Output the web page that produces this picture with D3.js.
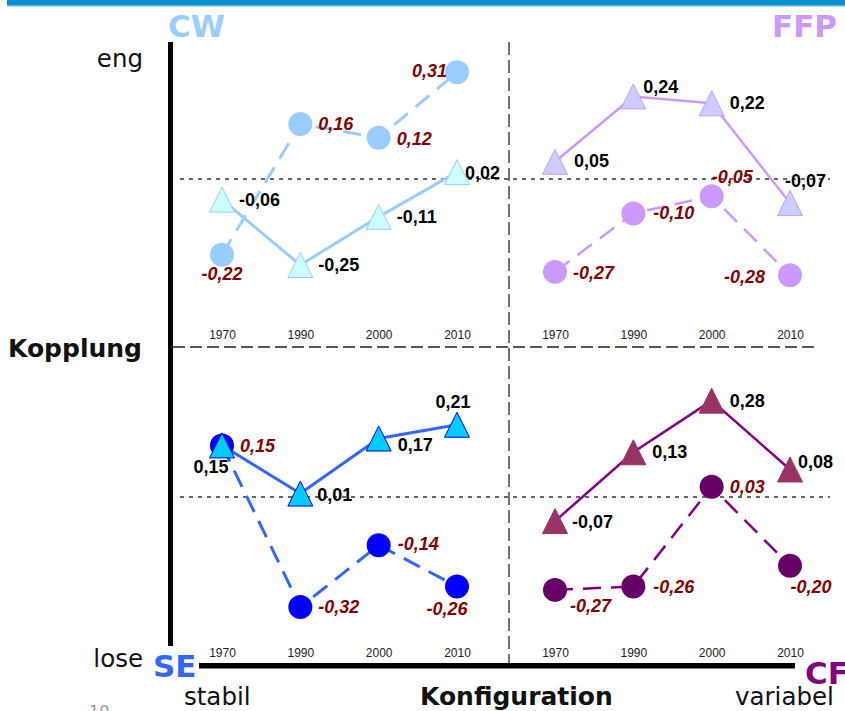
<!DOCTYPE html>
<html>
<head>
<meta charset="utf-8">
<script src="https://cdn.jsdelivr.net/npm/d3@7"></script>
<style>
  html, body { margin: 0; padding: 0; background: #fff; }
  svg { display: block; }
</style>
</head>
<body>
<svg id="chart" width="845" height="711"></svg>
<script>
// data
const years = ['1970', '1990', '2000', '2010'];

const cwTri   = [-0.06, -0.25, -0.11, 0.02];
const cwCirc  = [-0.22, 0.16, 0.12, 0.31];
const ffpTri  = [0.05, 0.24, 0.22, -0.07];
const ffpCirc = [-0.27, -0.10, -0.05, -0.28];
const seTri   = [0.15, 0.01, 0.17, 0.21];
const seCirc  = [0.15, -0.32, -0.14, -0.26];
const cfTri   = [-0.07, 0.13, 0.28, 0.08];
const cfCirc  = [-0.27, -0.26, 0.03, -0.20];

// label placement [dx, dy, anchor] relative to each marker
const cwTriLab   = [[17, 6, 'start'], [18, 6, 'start'], [18, 6, 'start'], [8, 7, 'start']];
const cwCircLab  = [[0, 25, 'middle'], [18, 6, 'start'], [18, 7, 'start'], [-10, 5, 'end']];
const ffpTriLab  = [[19, 5, 'start'], [10, -3, 'start'], [18, 6, 'start'], [-5, -16, 'start']];
const ffpCircLab = [[18, 7, 'start'], [20, 6, 'start'], [0, -13, 'start'], [-25, 8, 'end']];
const seTriLab   = [[-11, 28, 'middle'], [17, 7, 'start'], [19, 12, 'start'], [-4, -17, 'middle']];
const seCircLab  = [[18, 7, 'start'], [18, 6, 'start'], [19, 5, 'start'], [-10, 29, 'middle']];
const cfTriLab   = [[17, 7, 'start'], [19, 6, 'start'], [18, 6, 'start'], [8, -1, 'start']];
const cfCircLab  = [[15, 22, 'start'], [20, 7, 'start'], [18, 6, 'start'], [21, 27, 'middle']];

const fmt = d3.formatLocale({ decimal: ',', thousands: '.', grouping: [3], currency: ['', '€'], minus: '-' }).format('.2f');

const panels = [
  { name: 'CW',  tri: cwTri,  circ: cwCirc,  triLab: cwTriLab,  circLab: cwCircLab,
    x0: 222, x1: 457, zero: 179, line: '#99ccff', triFill: '#ccffff', triStroke: '#99ccff', circFill: '#99ccff', w: 3 },
  { name: 'FFP', tri: ffpTri, circ: ffpCirc, triLab: ffpTriLab, circLab: ffpCircLab,
    x0: 555, x1: 790, zero: 179, line: '#cc99ff', triFill: '#ccccff', triStroke: '#cc99ff', circFill: '#cc99ff', w: 2.5 },
  { name: 'SE',  tri: seTri,  circ: seCirc,  triLab: seTriLab,  circLab: seCircLab,
    x0: 222, x1: 457, zero: 497, line: '#3366ff', triFill: '#00ccff', triStroke: '#0000ff', circFill: '#0000ff', w: 3 },
  { name: 'CF',  tri: cfTri,  circ: cfCirc,  triLab: cfTriLab,  circLab: cfCircLab,
    x0: 555, x1: 790, zero: 497, line: '#800080', triFill: '#993366', triStroke: '#993366', circFill: '#660066', w: 2.5 }
];

const PX_PER_UNIT = 344;
const TRI_W = 25;
const TRI_H = 25;
const R = 12;
const LABEL_FONT = '"Liberation Sans", Arial, sans-serif';
const TEXT_FONT = '"DejaVu Sans", Verdana, sans-serif';

const svg = d3.select('#chart');

// top banner
svg.append('rect').attr('x', 7).attr('y', 0).attr('width', 838).attr('height', 5).attr('fill', '#0a8fcf');
svg.append('rect').attr('x', 7).attr('y', 5).attr('width', 838).attr('height', 1.5).attr('fill', '#5ab8e4');

// zero reference lines (dotted)
[179, 497].forEach(y => {
  svg.append('line')
      .attr('x1', 180).attr('x2', 830).attr('y1', y).attr('y2', y)
      .attr('stroke', '#666').attr('stroke-width', 2).attr('stroke-dasharray', '4,5');
});

// quadrant dividers
svg.append('line')
    .attr('x1', 173).attr('x2', 818).attr('y1', 347).attr('y2', 347)
    .attr('stroke', '#222').attr('stroke-width', 1.5).attr('stroke-dasharray', '12,5');
svg.append('line')
    .attr('x1', 509).attr('x2', 509).attr('y1', 42).attr('y2', 664)
    .attr('stroke', '#444').attr('stroke-width', 1.5).attr('stroke-dasharray', '13,5');

// main axes
svg.append('rect').attr('x', 168).attr('y', 42).attr('width', 5).attr('height', 604).attr('fill', '#000');
svg.append('rect').attr('x', 199).attr('y', 663).attr('width', 596).attr('height', 5.5).attr('fill', '#000');

function triPath(cx, cy) {
  return `M${cx},${cy - TRI_H / 2}L${cx + TRI_W / 2},${cy + TRI_H / 2}L${cx - TRI_W / 2},${cy + TRI_H / 2}Z`;
}

panels.forEach(p => {
  const x = d3.scalePoint().domain(years).range([p.x0, p.x1]);
  const y = d3.scaleLinear().domain([-0.5, 0.5]).range([p.zero + PX_PER_UNIT / 2, p.zero - PX_PER_UNIT / 2]);
  const g = svg.append('g');

  // year ticks
  const ax = g.append('g')
      .attr('transform', `translate(0,${p.zero + 151.5})`)
      .call(d3.axisBottom(x).tickSize(0).tickPadding(0));
  ax.select('.domain').remove();
  ax.selectAll('text').attr('font-family', LABEL_FONT).attr('font-size', 12).attr('fill', '#222');

  const line = d3.line().x((d, i) => x(years[i])).y(d => y(d));

  g.append('path')
      .attr('d', line(p.circ))
      .attr('fill', 'none').attr('stroke', p.line).attr('stroke-width', p.w)
      .attr('stroke-dasharray', '18,10');

  g.append('path')
      .attr('d', line(p.tri))
      .attr('fill', 'none').attr('stroke', p.line).attr('stroke-width', p.w);

  g.selectAll('circle.pt')
    .data(p.circ)
    .join('circle')
      .attr('class', 'pt')
      .attr('cx', (d, i) => x(years[i])).attr('cy', d => y(d))
      .attr('r', R).attr('fill', p.circFill);

  g.selectAll('path.tri')
    .data(p.tri)
    .join('path')
      .attr('class', 'tri')
      .attr('d', (d, i) => triPath(x(years[i]), y(d)))
      .attr('fill', p.triFill).attr('stroke', p.triStroke).attr('stroke-width', 1);

  g.selectAll('text.circ-lab')
    .data(p.circ)
    .join('text')
      .attr('class', 'circ-lab')
      .attr('x', (d, i) => x(years[i]) + p.circLab[i][0])
      .attr('y', (d, i) => y(d) + p.circLab[i][1])
      .attr('text-anchor', (d, i) => p.circLab[i][2])
      .attr('font-family', LABEL_FONT).attr('font-size', 18)
      .attr('font-weight', 'bold').attr('font-style', 'italic')
      .attr('fill', '#800000')
      .text(d => fmt(d));

  g.selectAll('text.tri-lab')
    .data(p.tri)
    .join('text')
      .attr('class', 'tri-lab')
      .attr('x', (d, i) => x(years[i]) + p.triLab[i][0])
      .attr('y', (d, i) => y(d) + p.triLab[i][1])
      .attr('text-anchor', (d, i) => p.triLab[i][2])
      .attr('font-family', LABEL_FONT).attr('font-size', 18)
      .attr('font-weight', 'bold')
      .attr('fill', '#000')
      .text(d => fmt(d));
});

// quadrant names
const quadNames = [
  { t: 'CW',  x: 168, y: 37,  c: '#99ccff' },
  { t: 'FFP', x: 772, y: 37,  c: '#cc99ff' },
  { t: 'SE',  x: 153, y: 677, c: '#3366ff' },
  { t: 'CF',  x: 805, y: 684, c: '#800080' }
];
quadNames.forEach(q => {
  svg.append('text')
      .attr('x', q.x).attr('y', q.y)
      .attr('font-family', TEXT_FONT).attr('font-size', 31).attr('font-weight', 'bold')
      .attr('fill', q.c)
      .text(q.t);
});

// axis captions
function caption(txt, x, y, anchor, bold) {
  svg.append('text')
      .attr('x', x).attr('y', y)
      .attr('text-anchor', anchor)
      .attr('font-family', TEXT_FONT).attr('font-size', bold ? 25 : 24.5)
      .attr('font-weight', bold ? 'bold' : 'normal')
      .attr('fill', '#111')
      .text(txt);
}
caption('eng', 143, 67, 'end', false);
caption('lose', 143, 667, 'end', false);
caption('Kopplung', 8, 357, 'start', true);
caption('stabil', 184, 705, 'start', false);
caption('Konfiguration', 420, 705, 'start', true);
caption('variabel', 735, 705, 'start', false);

// page number
svg.append('text')
    .attr('x', 89).attr('y', 717)
    .attr('font-family', TEXT_FONT).attr('font-size', 16)
    .attr('fill', '#999')
    .text('10');
</script>
</body>
</html>
